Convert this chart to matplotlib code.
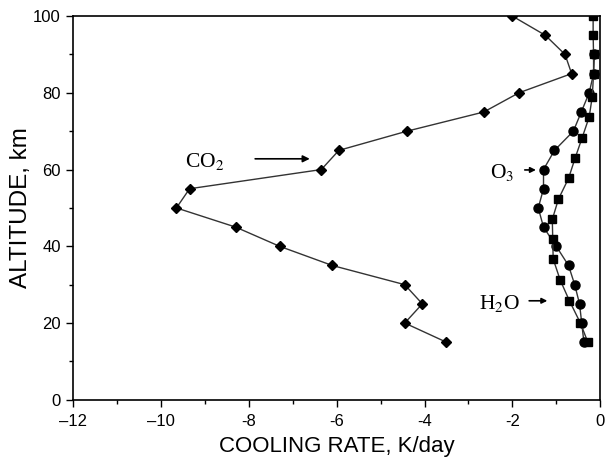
import matplotlib
matplotlib.use("Agg")
import matplotlib.pyplot as plt

plt.rcParams["font.family"] = ["Liberation Sans", "DejaVu Sans"]
plt.rcParams["mathtext.fontset"] = "stix"

# ── data (altitude km, cooling rate K/day) ─────────────────────────────────
co2_alt = [15, 20, 25, 30, 35, 40, 45, 50, 55, 60, 65, 70, 75, 80, 85, 90, 95, 100]
co2_rate = [-3.5, -4.45, -4.05, -4.45, -6.1, -7.3, -8.3, -9.65, -9.35,
            -6.35, -5.95, -4.4, -2.65, -1.85, -0.65, -0.8, -1.25, -2.0]

o3_alt = [15, 20, 25, 30, 35, 40, 45, 50, 55, 60, 65, 70, 75, 80, 85, 90]
o3_rate = [-0.37, -0.42, -0.47, -0.58, -0.72, -1.0, -1.29, -1.41, -1.29,
           -1.29, -1.04, -0.61, -0.43, -0.25, -0.15, -0.13]

h2o_alt = [15, 20, 25.8, 31.2, 36.7, 42, 47, 52.3, 57.7, 63, 68.3, 73.7,
           79, 85, 90, 95, 100]
h2o_rate = [-0.28, -0.45, -0.70, -0.91, -1.07, -1.08, -1.09, -0.95, -0.72,
            -0.57, -0.41, -0.25, -0.18, -0.15, -0.15, -0.16, -0.16]

x_ticks = [-12, -10, -8, -6, -4, -2, 0]
x_tick_labels = ["\u201312", "\u201310", "-8", "-6", "-4", "-2", "0"]
x_minor = [-11, -9, -7, -5, -3, -1]
y_ticks = [0, 20, 40, 60, 80, 100]
y_minor = [10, 30, 50, 70, 90]

LINE = "#333333"

fig = plt.figure(figsize=(6.05, 4.59), dpi=100)
ax = fig.add_axes([0.121, 0.129, 0.871, 0.836])

ax.plot(co2_rate, co2_alt, color=LINE, linewidth=1.0, marker="D",
        markersize=5.5, markerfacecolor="black", markeredgecolor="black")
ax.plot(o3_rate, o3_alt, color=LINE, linewidth=1.0, marker="o",
        markersize=6.5, markerfacecolor="black", markeredgecolor="black")
ax.plot(h2o_rate, h2o_alt, color=LINE, linewidth=1.0, marker="s",
        markersize=5.5, markerfacecolor="black", markeredgecolor="black")

# ── labels with arrows ─────────────────────────────────────────────────────
serif = dict(family=["Liberation Serif", "DejaVu Serif"], fontsize=15.5)
ax.text(-9.0, 62.2, r"CO$_2$", ha="center", va="center", **serif)
ax.annotate("", xy=(-6.55, 62.8), xytext=(-7.92, 62.8),
            arrowprops=dict(arrowstyle="-|>", color="black", lw=1.2,
                            mutation_scale=10))
ax.text(-2.22, 59.2, r"O$_3$", ha="center", va="center", **serif)
ax.annotate("", xy=(-1.4, 59.9), xytext=(-1.78, 59.9),
            arrowprops=dict(arrowstyle="-|>", color="black", lw=1.2,
                            mutation_scale=8))
ax.text(-2.3, 25.1, r"H$_2$O", ha="center", va="center", **serif)
ax.annotate("", xy=(-1.14, 25.8), xytext=(-1.68, 25.8),
            arrowprops=dict(arrowstyle="-|>", color="black", lw=1.2,
                            mutation_scale=8))

# ── axes ───────────────────────────────────────────────────────────────────
ax.set_xlim(-12, 0)
ax.set_ylim(0, 100)
ax.set_xticks(x_ticks)
ax.set_xticklabels(x_tick_labels)
ax.set_xticks(x_minor, minor=True)
ax.set_yticks(y_ticks)
ax.set_yticks(y_minor, minor=True)
ax.tick_params(which="major", direction="out", length=5, width=1, labelsize=12)
ax.tick_params(axis="x", which="major", pad=5)
ax.tick_params(axis="y", which="major", pad=4)
ax.tick_params(which="minor", direction="out", length=3, width=1)
for sp in ax.spines.values():
    sp.set_linewidth(1.2)

ax.set_xlabel("COOLING RATE, K/day", fontsize=16, labelpad=5)
ax.set_ylabel("ALTITUDE, km", fontsize=17.5, labelpad=1)

fig.savefig("out.png", dpi=100)
